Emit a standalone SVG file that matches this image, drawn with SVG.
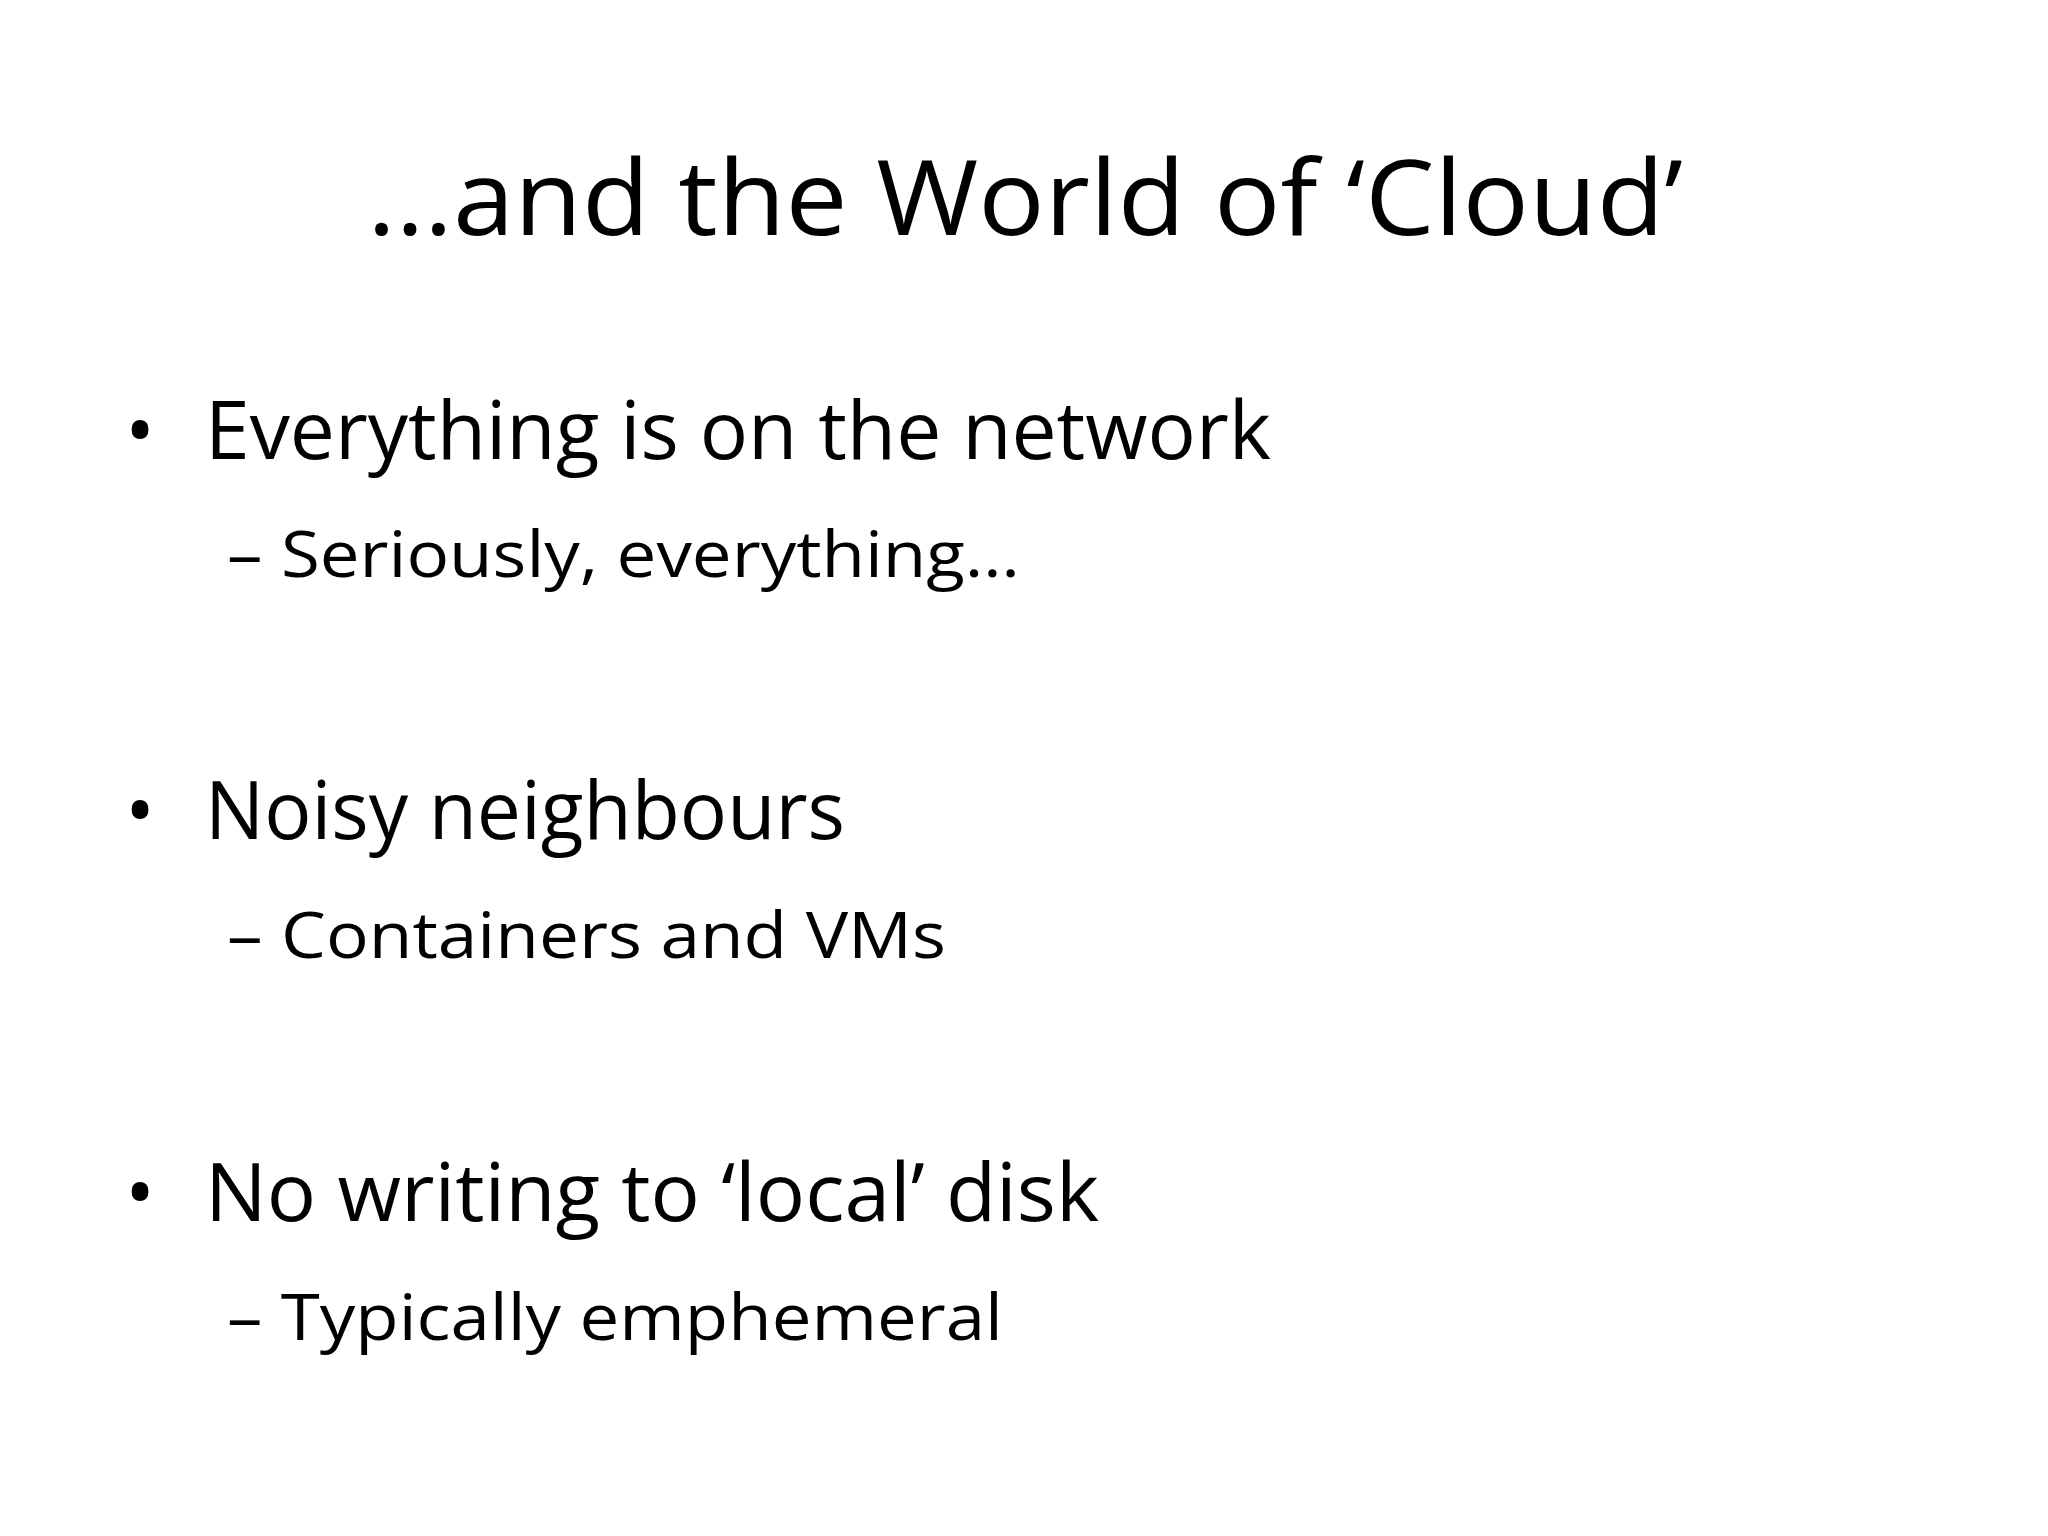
<svg xmlns="http://www.w3.org/2000/svg" width="2048" height="1536" viewBox="0 0 2048 1536">
<style>
text{font-family:"Open Sans","Noto Sans","Liberation Sans",sans-serif;fill:#000}
.t{font-size:104px}
.b{font-size:80px}
.s{font-size:64px}
</style>
<rect width="2048" height="1536" fill="#fff"/>
<text class="t" x="367" y="235" textLength="1316" lengthAdjust="spacingAndGlyphs">…and the World of ‘Cloud’</text>
<g id="bullet1">
<text class="b" x="125" y="459">•</text>
<text class="b" x="205" y="459" textLength="1066" lengthAdjust="spacingAndGlyphs">Everything is on the network</text>
<text class="s" x="227" y="577" textLength="793" lengthAdjust="spacingAndGlyphs">– Seriously, everything…</text>
</g>
<g id="bullet2">
<text class="b" x="125" y="839">•</text>
<text class="b" x="205" y="839" textLength="640" lengthAdjust="spacingAndGlyphs">Noisy neighbours</text>
<text class="s" x="227" y="958" textLength="719" lengthAdjust="spacingAndGlyphs">– Containers and VMs</text>
</g>
<g id="bullet3">
<text class="b" x="125" y="1221">•</text>
<text class="b" x="205" y="1221" textLength="894" lengthAdjust="spacingAndGlyphs">No writing to ‘local’ disk</text>
<text class="s" x="227" y="1340" textLength="776" lengthAdjust="spacingAndGlyphs">– Typically emphemeral</text>
</g>
</svg>
